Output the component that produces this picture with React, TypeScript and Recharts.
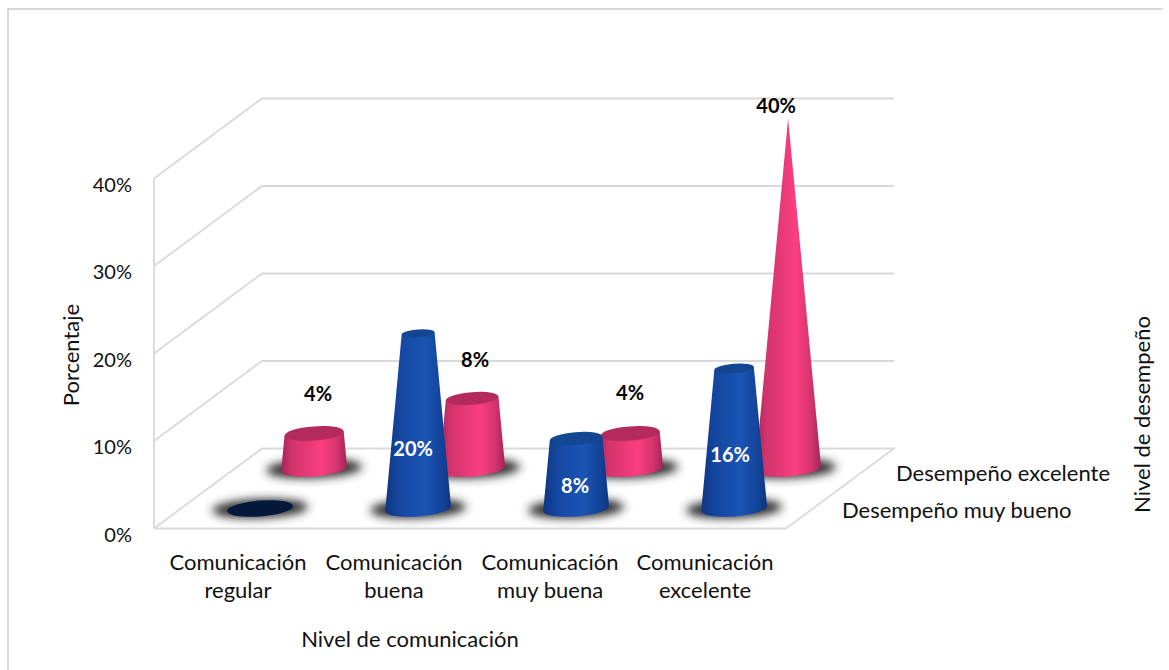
import React from "react";
import {
  ComposedChart,
  Bar,
  XAxis,
  YAxis,
  ReferenceLine,
  LabelList,
} from "recharts";

const categories = [
  "Comunicación regular",
  "Comunicación buena",
  "Comunicación muy buena",
  "Comunicación excelente",
];
const muyBueno = [0, 20, 8, 16];
const excelente = [4, 8, 4, 40];
const percentTicks = [0, 10, 20, 30, 40];

const rows = categories.map((name, i) => ({
  name,
  muyBueno: muyBueno[i],
  excelente: excelente[i],
}));

const FONT = "Lato, Carlito, sans-serif";
const GRID = "#d9d9d9";
const TEXT = "#111111";
const WIDTH = 1169;
const HEIGHT = 670;
const PLOT_LEFT = 154;
const PLOT_TOP = 178.5;
const PLOT_BOTTOM = 141.5;
const PLOT_RIGHT = 383;
const CAPTION_SIZE = 22;

// Depth of the floor, and where each series row sits on it.
const DEPTH_X = 108;
const DEPTH_Y = -80;
const FRONT_ROW = { dx: 27, dy: -20 };
const BACK_ROW = { dx: 81, dy: -60 };

const BASE_RADIUS = 33;
const TILT_DEG = 4.5;
const MAX_VALUE = 40;

type Row = { dx: number; dy: number };

// Truncated cone narrowing linearly so that the maximum value ends in a point.
function Cone(props: any, row: Row, side: string, cap: string) {
  const { x, y, width, height, value } = props;
  const raw = Array.isArray(value) ? value[1] - value[0] : value;
  const v = Number(raw) || 0;
  const cx = x + width / 2 + row.dx;
  const yTop = y + row.dy;
  const yBase = y + height + row.dy;
  const rb = BASE_RADIUS;
  const rt = rb * (1 - v / MAX_VALUE);
  const tilt = (TILT_DEG * Math.PI) / 180;
  const c = Math.cos(tilt);
  const s = Math.sin(tilt);
  const ryOf = (r: number) => r * 0.24;
  const body =
    `M ${cx - rb * c} ${yBase + rb * s} ` +
    `L ${cx - rt * c} ${yTop + rt * s} ` +
    `L ${cx + rt * c} ${yTop - rt * s} ` +
    `L ${cx + rb * c} ${yBase - rb * s} ` +
    `A ${rb} ${ryOf(rb)} ${-TILT_DEG} 0 1 ${cx - rb * c} ${yBase + rb * s} Z`;
  return (
    <g>
      <ellipse
        cx={cx}
        cy={yBase}
        rx={rb + 15}
        ry={9.5}
        fill="#2a2a2a"
        filter="url(#floorShadow)"
        transform={`rotate(${-TILT_DEG / 2} ${cx} ${yBase})`}
      />
      {v > 0 ? <path d={body} fill={`url(#${side})`} /> : null}
      <ellipse
        cx={cx}
        cy={yTop}
        rx={rt}
        ry={ryOf(rt)}
        fill={v > 0 ? cap : "#04183c"}
        transform={`rotate(${-TILT_DEG} ${cx} ${yTop})`}
      />
    </g>
  );
}

// Per-category adjustment of the value labels.
const backLabelShift = [
  { x: 4, y: -40.5 },
  { x: 3, y: -39.5 },
  { x: 0, y: -41.5 },
  { x: -12, y: -13.5 },
];
const frontLabelShift = [
  { x: 0, y: 0 },
  { x: -5, y: 27 },
  { x: -1, y: 11 },
  { x: -4, y: 15 },
];

function backLabel(p: any) {
  const { x, y, width, index, value } = p;
  const shift = backLabelShift[index];
  return (
    <text
      x={x + width / 2 + BACK_ROW.dx + shift.x}
      y={y + BACK_ROW.dy + shift.y}
      textAnchor="middle"
      dominantBaseline="central"
      fontFamily={FONT}
      fontSize={20}
      fontWeight={700}
      fill="#000"
    >
      {value}%
    </text>
  );
}

function frontLabel(p: any) {
  const { x, y, width, height, index, value } = p;
  if (!value) return null;
  const shift = frontLabelShift[index];
  return (
    <text
      x={x + width / 2 + FRONT_ROW.dx + shift.x}
      y={y + height / 2 + FRONT_ROW.dy + shift.y}
      textAnchor="middle"
      dominantBaseline="central"
      fontFamily={FONT}
      fontSize={20}
      fontWeight={700}
      fill="#fff"
    >
      {value}%
    </text>
  );
}

// Each gridline runs along the side wall and then across the back wall.
function WallLine(p: any) {
  const { x1, y1, x2 } = p;
  const pts = [
    [x1, y1],
    [x1 + DEPTH_X, y1 + DEPTH_Y],
    [x2 + DEPTH_X, y1 + DEPTH_Y],
  ];
  if (y1 > 500) pts.push([x2, y1]);
  return (
    <polyline
      points={pts.map((q) => q.join(",")).join(" ")}
      fill="none"
      stroke={GRID}
      strokeWidth={1.8}
    />
  );
}

const tickShift = [5, 3, 1, -2];

function CategoryTick(p: any) {
  const { x, y, payload, index } = p;
  const words = String(payload.value).split(" ");
  const lines = [words[0], words.slice(1).join(" ")];
  return (
    <text
      x={x + tickShift[index]}
      textAnchor="middle"
      fontFamily={FONT}
      fontSize={CAPTION_SIZE}
      fill={TEXT}
    >
      {lines.map((line, i) => (
        <tspan key={i} x={x + tickShift[index]} y={y + 25 + i * 28} dominantBaseline="central">
          {line}
        </tspan>
      ))}
    </text>
  );
}

function PercentTick(p: any) {
  const { y, payload } = p;
  return (
    <text
      x={132}
      y={y + 5}
      textAnchor="end"
      dominantBaseline="central"
      fontFamily={FONT}
      fontSize={20}
      fill={TEXT}
    >
      {payload.value}%
    </text>
  );
}

function Caption(props: {
  x: number;
  y: number;
  rotate?: boolean;
  children: string;
  anchor?: "start" | "middle";
}) {
  const { x, y, rotate, children, anchor = "middle" } = props;
  return (
    <text
      x={x}
      y={y}
      textAnchor={anchor}
      dominantBaseline="central"
      fontFamily={FONT}
      fontSize={CAPTION_SIZE}
      fill={TEXT}
      transform={rotate ? `rotate(-90 ${x} ${y})` : undefined}
    >
      {children}
    </text>
  );
}

export default function App() {
  return (
    <div
      style={{
        position: "absolute",
        left: 0,
        top: 0,
        width: WIDTH,
        height: HEIGHT,
        overflow: "hidden",
        background: "#fff",
      }}
    >
      <ComposedChart
        width={WIDTH}
        height={HEIGHT}
        data={rows}
        margin={{ top: PLOT_TOP, right: PLOT_RIGHT, bottom: 0, left: 0 }}
        barCategoryGap="20%"
      >
        <defs>
          <linearGradient id="pinkSide" x1="0" y1="0" x2="1" y2="0">
            <stop offset="0" stopColor="#a02657" />
            <stop offset="0.16" stopColor="#d2336c" />
            <stop offset="0.62" stopColor="#fa3f80" />
            <stop offset="0.86" stopColor="#d2336c" />
            <stop offset="1" stopColor="#a02657" />
          </linearGradient>
          <linearGradient id="blueSide" x1="0" y1="0" x2="1" y2="0">
            <stop offset="0" stopColor="#0e367e" />
            <stop offset="0.2" stopColor="#1446a0" />
            <stop offset="0.6" stopColor="#1a54b4" />
            <stop offset="0.85" stopColor="#13449a" />
            <stop offset="1" stopColor="#0e367e" />
          </linearGradient>
          <filter id="floorShadow" x="-30%" y="-100%" width="160%" height="300%">
            <feGaussianBlur stdDeviation="5" />
          </filter>
        </defs>
        <XAxis
          xAxisId="front"
          dataKey="name"
          height={PLOT_BOTTOM}
          tickLine={false}
          axisLine={{ stroke: GRID, strokeWidth: 1.8 }}
          tick={CategoryTick}
          interval={0}
        />
        <XAxis xAxisId="back" dataKey="name" orientation="top" height={0} hide />
        <YAxis
          domain={[0, MAX_VALUE]}
          ticks={percentTicks}
          width={PLOT_LEFT}
          tickLine={false}
          axisLine={{ stroke: GRID, strokeWidth: 1.8 }}
          tick={PercentTick}
        />
        {percentTicks.map((t) => (
          <ReferenceLine
            key={t}
            xAxisId="front"
            y={t}
            shape={WallLine}
            ifOverflow="visible"
            zIndex={100}
          />
        ))}
        <Bar
          xAxisId="back"
          dataKey="excelente"
          isAnimationActive={false}
          shape={(p: any) => Cone(p, BACK_ROW, "pinkSide", "#b42a5d")}
        >
          <LabelList dataKey="excelente" content={backLabel} />
        </Bar>
        <Bar
          xAxisId="front"
          dataKey="muyBueno"
          isAnimationActive={false}
          shape={(p: any) => Cone(p, FRONT_ROW, "blueSide", "#134791")}
        >
          <LabelList dataKey="muyBueno" content={frontLabel} />
        </Bar>
        <Caption x={70} y={355} rotate>
          Porcentaje
        </Caption>
        <Caption x={410} y={638}>
          Nivel de comunicación
        </Caption>
        <Caption x={1141} y={414.5} rotate>
          Nivel de desempeño
        </Caption>
        <Caption x={896} y={472} anchor="start">
          Desempeño excelente
        </Caption>
        <Caption x={842} y={509} anchor="start">
          Desempeño muy bueno
        </Caption>
      </ComposedChart>
      <div
        style={{
          position: "absolute",
          left: 7,
          top: 8,
          width: 1154,
          height: 670,
          borderTop: `2px solid ${GRID}`,
          borderLeft: `2px solid ${GRID}`,
          pointerEvents: "none",
        }}
      />
    </div>
  );
}
